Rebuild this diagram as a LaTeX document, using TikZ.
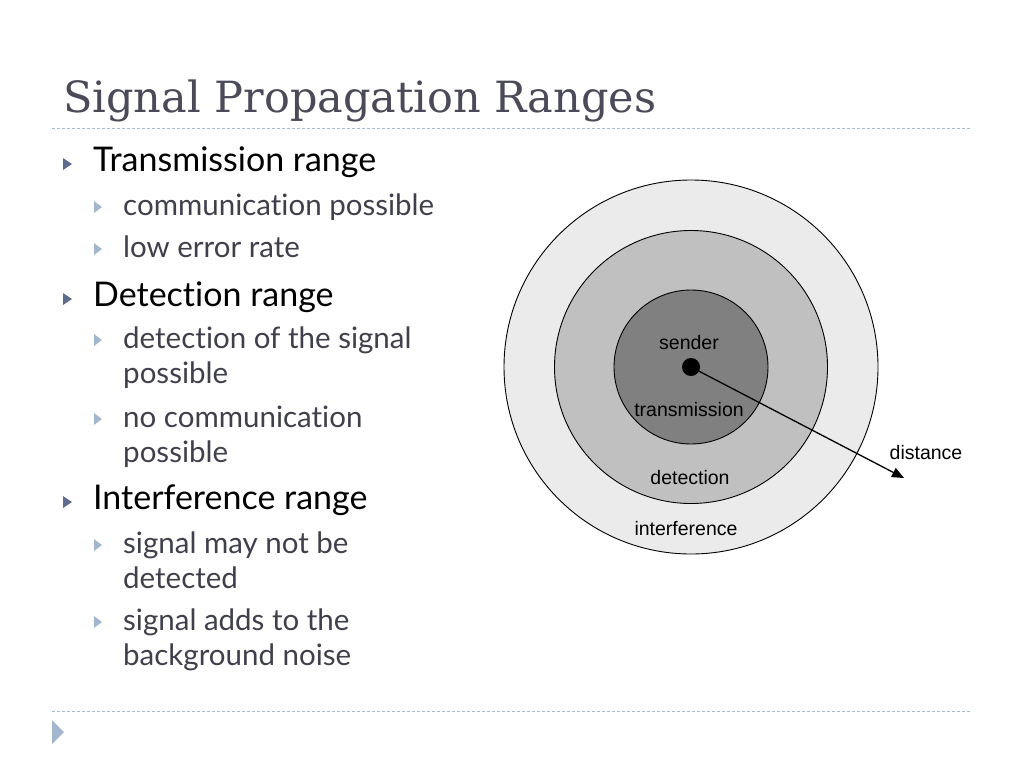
\documentclass[tikz,border=0pt]{standalone}
\usepackage{fontspec}
\setmainfont{Lato}[Ligatures=NoCommon]
\newfontfamily\titlefont{DejaVu Serif}
\newfontfamily\figfont{Liberation Sans}
\usetikzlibrary{positioning,shapes,arrows,arrows.meta}

\definecolor{titlegray}{HTML}{4A4A58}
\definecolor{textgray}{HTML}{40404C}
\definecolor{bulletdark}{HTML}{5E6C8E}
\definecolor{bulletlight}{HTML}{A2B6CC}
\definecolor{ruleblue}{HTML}{A8B8CA}
\definecolor{ringouter}{HTML}{EBEBEB}
\definecolor{ringmid}{HTML}{C0C0C0}
\definecolor{ringinner}{HTML}{808080}

\begin{document}
\begin{tikzpicture}[x=1pt,y=-1pt]
            \tikzstyle{title} = [anchor=base west, inner sep=0pt, font=\titlefont\fontsize{43}{50}\selectfont, text=titlegray]
            \tikzstyle{itemA} = [anchor=base west, inner sep=0pt, font=\fontsize{34}{38}\selectfont, text=black]
            \tikzstyle{itemB} = [anchor=base west, inner sep=0pt, align=left, font=\fontsize{29.5}{35}\selectfont, text=textgray]
            \tikzstyle{bulA} = [fill=bulletdark]
            \tikzstyle{bulB} = [fill=bulletlight]
            \tikzstyle{rule} = [draw=ruleblue, line width=1pt, dash pattern=on 3pt off 2pt]
            \tikzstyle{ring} = [circle, draw=black, line width=0.9pt, inner sep=0pt]
            \tikzstyle{label} = [font=\figfont\fontsize{19.5}{22}\selectfont, inner sep=0pt]
            \tikzstyle{arrow} = [line width=1.3pt, -{Triangle[length=12pt,width=10pt]}]

            \useasboundingbox (0,0) rectangle (1024,768);

            % Title and rules
            \node (title) [title] at (63,112) {Signal Propagation Ranges};
            \coordinate (ruletl) at (52,128);
            \coordinate (ruletr) at (972,128);
            \coordinate (rulebl) at (52,711);
            \coordinate (rulebr) at (972,711);
            \draw [rule] (ruletl) -- (ruletr);
            \draw [rule] (rulebl) -- (rulebr);
            \fill [bulB] (52,720) -- (64,732) -- (52,744) -- cycle;

            % Bullet list (two-line items sit on the baseline of their last line)
            \node (t1) [itemA] at (93,171) {Transmission range};
            \node (t1a) [itemB] at (123,215) {communication possible};
            \node (t1b) [itemB] at (123,257) {low error rate};
            \node (t2) [itemA] at (93,306) {Detection range};
            \node (t2a) [itemB] at (123,383) {detection of the signal\\possible};
            \node (t2b) [itemB] at (123,462) {no communication\\possible};
            \node (t3) [itemA] at (93,509) {Interference range};
            \node (t3a) [itemB] at (123,588) {signal may not be\\detected};
            \node (t3b) [itemB] at (123,665) {signal adds to the\\background noise};

            % Bullets
            \fill [bulA] (63,158) -- ++(9,6) -- ++(-9,6) -- cycle;
            \fill [bulA] (63,293) -- ++(9,6) -- ++(-9,6) -- cycle;
            \fill [bulA] (63,496) -- ++(9,6) -- ++(-9,6) -- cycle;
            \fill [bulB] (94,201) -- ++(8,6) -- ++(-8,6) -- cycle;
            \fill [bulB] (94,243) -- ++(8,6) -- ++(-8,6) -- cycle;
            \fill [bulB] (94,334) -- ++(8,6) -- ++(-8,6) -- cycle;
            \fill [bulB] (94,413) -- ++(8,6) -- ++(-8,6) -- cycle;
            \fill [bulB] (94,539) -- ++(8,6) -- ++(-8,6) -- cycle;
            \fill [bulB] (94,616) -- ++(8,6) -- ++(-8,6) -- cycle;

            % Ranges
            \node (interference) [ring, minimum size=374pt, fill=ringouter] at (691,367) {};
            \node (detection) [ring, minimum size=273pt, fill=ringmid] at (interference.center) {};
            \node (transmission) [ring, minimum size=154pt, fill=ringinner] at (interference.center) {};
            \node (sender) [circle, fill=black, minimum size=18pt, inner sep=0pt] at (interference.center) {};

            % Labels
            \node (senderlbl) [label] at (689,343) {sender};
            \node (translbl) [label] at (689,410) {transmission};
            \node (detlbl) [label] at (690,478) {detection};
            \node (interflbl) [label] at (686,529) {interference};
            \node (distlbl) [label] at (926,453) {distance};

            % Arrow
            \coordinate (distend) at (904,478);
            \draw [arrow] (sender.center) -- (distend);
\end{tikzpicture}
\end{document}
